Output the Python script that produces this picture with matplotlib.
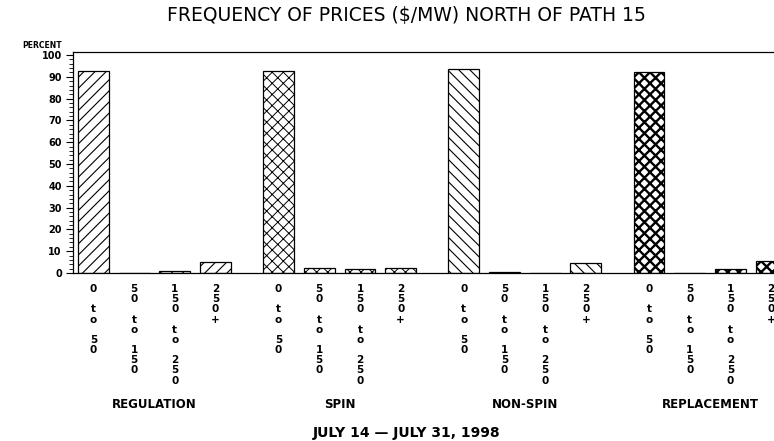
"""Frequency of ancillary service prices north of Path 15, July 1998."""

from matplotlib import pyplot
from matplotlib import transforms
from matplotlib.ticker import MultipleLocator

# Data (percent of hours in each price bin).
groups = ['REGULATION', 'SPIN', 'NON-SPIN', 'REPLACEMENT']
price_bins = ['0 to 50', '50 to 150', '150 to 250', '250+']
regulation = [92.7, 0.2, 0.9, 5.2]
spin = [92.7, 2.4, 2.0, 2.4]
non_spin = [93.6, 0.6, 0.2, 4.6]
replacement = [92.1, 0.2, 1.9, 5.5]
series = [regulation, spin, non_spin, replacement]
hatches = ['///', 'xxx', '\\\\\\', 'xxx']
hatch_widths = [0.8, 0.7, 0.8, 1.7]

group_step = 4.55  # distance between first bars of consecutive groups
bar_width = 0.76


def stacked(label):
    """Write each character on its own line, blank line between words."""
    return '\n\n'.join('\n'.join(word) for word in label.split())


pyplot.rc('font', family='DejaVu Sans')
fig = pyplot.figure(figsize=(7.74, 4.41), dpi=100)
ax = fig.add_axes([73 / 774, 168 / 441, 1 - 73 / 774, 221 / 441])

positions, labels = [], []
for g, values in enumerate(series):
    x = [g * group_step + i for i in range(len(values))]
    pyplot.rcParams['hatch.linewidth'] = hatch_widths[g]
    bars = ax.bar(x, values, width=bar_width, color='white',
                  edgecolor='black', linewidth=0.9, hatch=hatches[g])
    for bar in bars:
        if hasattr(bar, 'set_hatch_linewidth'):
            bar.set_hatch_linewidth(hatch_widths[g])
    positions += x
    labels += [stacked(b) for b in price_bins]

ax.set_xlim(-0.5, 16.72)
ax.set_ylim(0, 101.4)
ax.set_xticks(positions)
ax.set_xticklabels(labels, fontsize=7.5, fontweight='bold', va='top',
                   linespacing=1.02)
ax.tick_params(axis='x', length=0, pad=8)
ax.yaxis.set_major_locator(MultipleLocator(10))
ax.yaxis.set_minor_locator(MultipleLocator(2))
ax.tick_params(axis='y', which='major', length=5, width=0.8,
               labelsize=7, pad=3)
ax.tick_params(axis='y', which='minor', length=3, width=0.6)
for label in ax.get_yticklabels():
    label.set_fontweight('bold')
ax.spines['right'].set_visible(False)
for side in ['left', 'top', 'bottom']:
    ax.spines[side].set_linewidth(0.9)

# Group names under each block of bars.
trans = transforms.blended_transform_factory(ax.transData, fig.transFigure)
for g, name in enumerate(groups):
    xc = g * group_step + 1.5
    ax.text(xc, 1 - 405 / 441, name, transform=trans, ha='center',
            va='center', fontsize=8.5, fontweight='bold')

fig.text(62 / 774, 1 - 45 / 441, 'PERCENT', ha='right', va='center',
         fontsize=5.5, fontweight='bold')
fig.text(406 / 774, 1 - 16 / 441, 'FREQUENCY OF PRICES ($/MW) NORTH OF PATH 15',
         ha='center', va='center', fontsize=13.5)
fig.text(407 / 774, 1 - 433 / 441, 'JULY 14 — JULY 31, 1998',
         ha='center', va='center', fontsize=10, fontweight='bold')

fig.savefig('out.png', dpi=100)
